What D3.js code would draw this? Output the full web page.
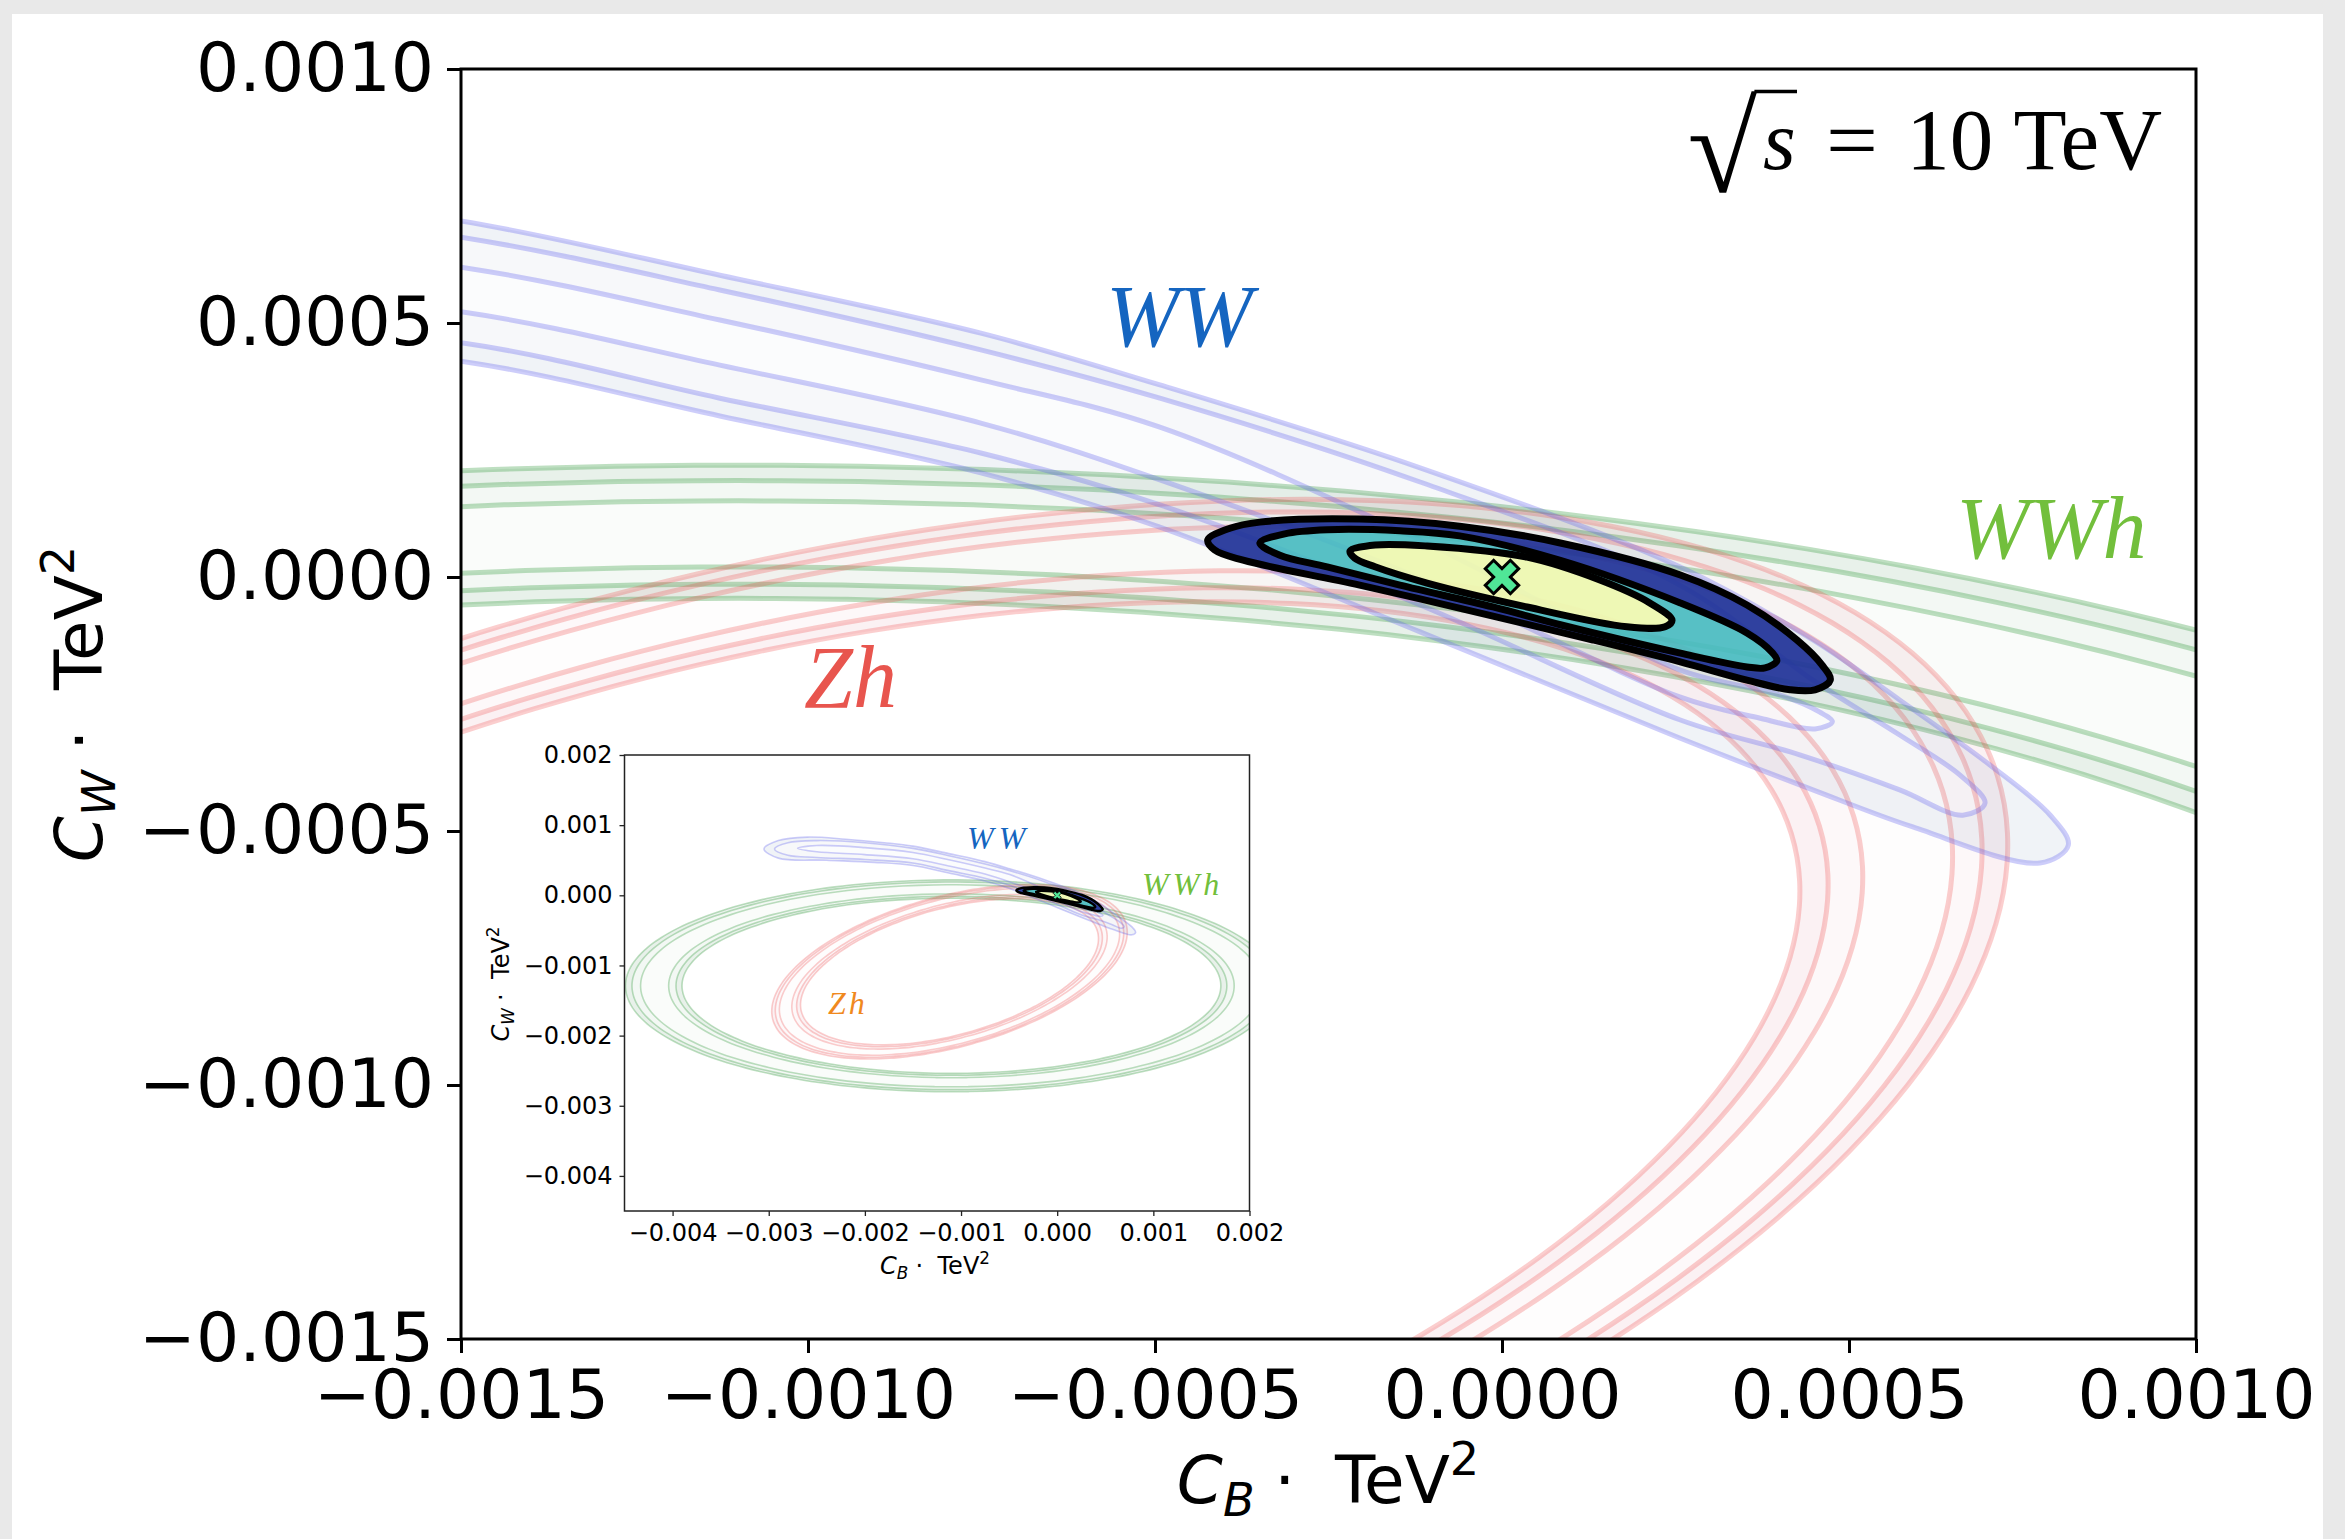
<!DOCTYPE html>
<html>
<head>
<meta charset="utf-8">
<script src="https://cdn.jsdelivr.net/npm/d3@7"></script>
<style>
  body { margin: 0; background: #e9e9e9; }
  svg { display: block; }
</style>
</head>
<body>
<div id="chart"></div>
<script>
// axis ranges and ticks (C_B on x, C_W on y, both times TeV^2)
var xDomain = [-0.0015, 0.001];
var yDomain = [-0.0015, 0.001];
var xTicks = [-0.0015, -0.001, -0.0005, 0, 0.0005, 0.001];
var yTicks = [-0.0015, -0.001, -0.0005, 0, 0.0005, 0.001];
var insetDomain = [-0.0045, 0.002];
var insetTicks = [-0.004, -0.003, -0.002, -0.001, 0, 0.001, 0.002];

// WW: three nested closed contours (inner -> outer), [C_B, C_W]
var ww1 = [
  [-0.0027, 0.00067], [-0.0025, 0.00071], [-0.002, 0.00068], [-0.0015, 0.00061],
  [-0.001127, 0.000506], [-0.000751, 0.000388], [-0.000493, 0.000295], [-0.000118, 0.000073],
  [0.000256, -0.000183], [0.0004, -0.000232], [0.000458, -0.000266], [0.000476, -0.000285],
  [0.000451, -0.000299], [0.000372, -0.000278], [0.000256, -0.000236], [-0.000118, -0.000002],
  [-0.000493, 0.000191], [-0.000751, 0.000303], [-0.001127, 0.000417], [-0.0015, 0.000522],
  [-0.002, 0.00058], [-0.0025, 0.00062]
];
var ww2 = [
  [-0.00294, 0.00066], [-0.0028, 0.00075], [-0.0025, 0.00078], [-0.002, 0.00075], [-0.0015, 0.000669],
  [-0.001127, 0.000565], [-0.000751, 0.000447], [-0.000493, 0.000352], [-0.000118, 0.000187],
  [0.000256, -0.000016], [0.000448, -0.000203], [0.000573, -0.000311], [0.00066, -0.00039],
  [0.000696, -0.000445], [0.000664, -0.000469], [0.000573, -0.000419], [0.000429, -0.00035],
  [0.000256, -0.000281], [-0.000118, -0.000055], [-0.000493, 0.000142], [-0.000751, 0.000244],
  [-0.001127, 0.000352], [-0.0015, 0.000461], [-0.002, 0.00051], [-0.0025, 0.00054], [-0.0028, 0.00057]
];
var ww3 = [
  [-0.00305, 0.00066], [-0.0029, 0.00078], [-0.0026, 0.00083], [-0.0022, 0.0008], [-0.0018, 0.00075],
  [-0.0015, 0.000701], [-0.001127, 0.000594], [-0.000751, 0.00048], [-0.000493, 0.000378],
  [-0.000118, 0.000215], [0.000256, 0.00002], [0.000448, -0.000124], [0.000573, -0.000242],
  [0.000703, -0.00037], [0.00079, -0.000469], [0.000816, -0.000528], [0.000775, -0.000563],
  [0.000592, -0.000492], [0.000448, -0.000419], [0.000256, -0.000317], [-0.000118, -0.000108],
  [-0.000493, 0.000098], [-0.000751, 0.000205], [-0.001127, 0.000317], [-0.0015, 0.000425],
  [-0.0019, 0.00047], [-0.0024, 0.0005], [-0.0029, 0.00053]
];

// WWh and Zh are rings of similar ellipses: [centre C_B, centre C_W, semi-axis a, semi-axis b, tilt deg]
var wwhEllipse = [-0.0011, -0.00129, 0.00339, 0.00151, 0];
var wwhScales = [0.8265, 0.845, 0.8675, 0.9536, 0.98, 1.0];   // inner 3s .. outer 3s
var zhEllipse = [-0.00112, -0.00109, 0.00197, 0.00104, 24];
var zhScales = [0.838, 0.86, 0.887, 0.957, 0.98, 1.0];

// combined fit, 1/2/3 sigma
var fit1 = [
  [-0.000219, 0.000051], [-0.000183, 0.000063], [-0.000108, 0.000061], [0.000036, 0.000039],
  [0.000141, -0.000006], [0.000213, -0.000051], [0.000245, -0.000085], [0.000235, -0.000098],
  [0.00018, -0.000098], [0.000036, -0.000059], [-0.000108, -0.000012], [-0.000183, 0.00002],
  [-0.000212, 0.000037]
];
var fit2 = [
  [-0.000349, 0.000067], [-0.000313, 0.000085], [-0.000252, 0.000093], [-0.000147, 0.000091],
  [-0.000061, 0.000081], [0.000084, 0.000033], [0.000257, -0.000051], [0.000353, -0.00011],
  [0.000389, -0.000148], [0.000396, -0.000165], [0.000379, -0.000179], [0.000353, -0.000177],
  [0.000257, -0.00015], [0.000084, -0.000094], [-0.000013, -0.000059], [-0.000147, -0.000016],
  [-0.000252, 0.00002], [-0.00032, 0.000043]
];
var fit3 = [
  [-0.000424, 0.000073], [-0.000392, 0.000096], [-0.000349, 0.000108], [-0.000205, 0.000114],
  [-0.000061, 0.0001], [0.000084, 0.000067], [0.000257, 0.000004], [0.000353, -0.000055],
  [0.000425, -0.000124], [0.000461, -0.000173], [0.000473, -0.000203], [0.000451, -0.000222],
  [0.000415, -0.000222], [0.000353, -0.000203], [0.000257, -0.000167], [0.000131, -0.000124],
  [-0.000013, -0.000077], [-0.000205, -0.000016], [-0.000373, 0.000033], [-0.000414, 0.000053]
];
var bestFit = [0, 0];

var W = 2345, H = 1539;

var svg = d3.select("#chart").append("svg")
  .attr("width", W)
  .attr("height", H);

svg.append("rect").attr("width", W).attr("height", H).attr("fill", "#e9e9e9");
svg.append("rect").attr("x", 12).attr("y", 14).attr("width", 2311).attr("height", H - 14).attr("fill", "white");

var defs = svg.append("defs");

function ellipseRing(e, s) {
  var th = e[4] * Math.PI / 180;
  return d3.range(0, 360, 3).map(function(deg) {
    var t = deg * Math.PI / 180;
    var u = s * e[2] * Math.cos(t), v = s * e[3] * Math.sin(t);
    return [e[0] + u * Math.cos(th) - v * Math.sin(th), e[1] + u * Math.sin(th) + v * Math.cos(th)];
  });
}

var wwhRings = wwhScales.map(function(s) { return ellipseRing(wwhEllipse, s); });
var zhRings = zhScales.map(function(s) { return ellipseRing(zhEllipse, s); });

// draws all contours of one panel
function drawPanel(g, x, y, clipId, lw, fitLw, markSize, markStroke) {
  var line = d3.line()
    .x(function(d) { return x(d[0]); })
    .y(function(d) { return y(d[1]); })
    .curve(d3.curveCatmullRomClosed);

  var body = g.append("g").attr("clip-path", "url(#" + clipId + ")");

  function band(outer, inner, fill) {
    body.append("path")
      .attr("d", line(outer) + (inner ? line(inner) : ""))
      .attr("fill-rule", "evenodd")
      .attr("fill", fill);
  }
  function strokes(curves, color) {
    curves.forEach(function(c) {
      body.append("path")
        .attr("d", line(c))
        .attr("fill", "none")
        .attr("stroke", color)
        .attr("stroke-width", lw);
    });
  }
  function ring(r, fills, color) {
    band(r[5], r[4], fills[0]);
    band(r[4], r[3], fills[1]);
    band(r[3], r[2], fills[2]);
    band(r[2], r[1], fills[1]);
    band(r[1], r[0], fills[0]);
    strokes(r, color);
  }

  ring(wwhRings, ["rgba(30,120,50,0.10)", "rgba(30,120,50,0.055)", "rgba(30,120,50,0.022)"], "rgba(40,150,50,0.3)");
  ring(zhRings, ["rgba(200,50,80,0.07)", "rgba(200,50,80,0.035)", "rgba(200,50,80,0.012)"], "rgba(240,60,60,0.25)");

  band(ww3, ww2, "rgba(60,100,150,0.08)");
  band(ww2, ww1, "rgba(60,100,150,0.045)");
  band(ww1, null, "rgba(60,100,150,0.02)");
  strokes([ww1, ww2, ww3], "rgba(90,90,240,0.3)");

  // combined fit
  band(fit3, fit2, "rgba(32,50,152,0.92)");
  band(fit2, fit1, "rgba(70,186,192,0.9)");
  band(fit1, null, "rgba(237,248,177,0.95)");
  [fit1, fit2, fit3].forEach(function(c) {
    body.append("path")
      .attr("d", line(c))
      .attr("fill", "none")
      .attr("stroke", "black")
      .attr("stroke-width", fitLw);
  });

  body.append("path")
    .attr("d", d3.symbol().type(d3.symbolCross).size(markSize)())
    .attr("transform", "translate(" + x(bestFit[0]) + "," + y(bestFit[1]) + ") rotate(45)")
    .attr("fill", "#50e697")
    .attr("stroke", "black")
    .attr("stroke-width", markStroke);
}

// "C_sub . TeV^2" axis title
function cLabel(t, sub, fs) {
  t.append("tspan").attr("font-style", "italic").text("C");
  t.append("tspan").attr("font-style", "italic").attr("font-size", fs * 0.7).attr("dy", fs * 0.2).text(sub);
  t.append("tspan").attr("dy", -fs * 0.2).attr("dx", fs * 0.3).text("\u00b7");
  t.append("tspan").attr("dx", fs * 0.6).text("TeV");
  t.append("tspan").attr("font-size", fs * 0.7).attr("dy", -fs * 0.42).text("2");
}

// ---------- main panel ----------
var x = d3.scaleLinear().domain(xDomain).range([461, 2196]);
var y = d3.scaleLinear().domain(yDomain).range([1339, 69]);

defs.append("clipPath").attr("id", "clipMain")
  .append("rect").attr("x", 461).attr("y", 69).attr("width", 1735).attr("height", 1270);

var mainG = svg.append("g");
drawPanel(mainG, x, y, "clipMain", 5, 7, 700, 3);

var fmt4 = d3.format(".4f");

var xAxis = mainG.append("g")
  .attr("transform", "translate(0,1339)")
  .call(d3.axisBottom(x).tickValues(xTicks).tickFormat(fmt4).tickSize(14).tickPadding(17));
var yAxis = mainG.append("g")
  .attr("transform", "translate(461,0)")
  .call(d3.axisLeft(y).tickValues(yTicks).tickFormat(fmt4).tickSize(14).tickPadding(13));

[xAxis, yAxis].forEach(function(a) {
  a.select(".domain").remove();
  a.selectAll("line").attr("stroke", "black").attr("stroke-width", 3);
  a.selectAll("text").attr("font-family", "DejaVu Sans").attr("font-size", 68).attr("fill", "black");
});

mainG.append("rect")
  .attr("x", 461).attr("y", 69).attr("width", 1735).attr("height", 1270)
  .attr("fill", "none").attr("stroke", "black").attr("stroke-width", 3);

var xl = mainG.append("text")
  .attr("x", 1328).attr("y", 1503)
  .attr("text-anchor", "middle")
  .attr("font-family", "DejaVu Sans").attr("font-size", 66);
cLabel(xl, "B", 66);

var yl = mainG.append("text")
  .attr("transform", "translate(102,704) rotate(-90)")
  .attr("text-anchor", "middle")
  .attr("font-family", "DejaVu Sans").attr("font-size", 66);
cLabel(yl, "W", 66);

// process names
var serif = "Liberation Serif";
mainG.append("text").attr("x", 1106).attr("y", 346).attr("font-family", serif).attr("font-style", "italic")
  .attr("font-size", 88).attr("fill", "#1565c0").text("WW");
mainG.append("text").attr("x", 804).attr("y", 707).attr("font-family", serif).attr("font-style", "italic")
  .attr("font-size", 88).attr("fill", "#e8554e").text("Zh");
mainG.append("text").attr("x", 1956).attr("y", 558).attr("font-family", serif).attr("font-style", "italic")
  .attr("font-size", 88).attr("fill", "#72bf3c").text("WWh");

// sqrt(s) = 10 TeV
var ctx = document.createElement("canvas").getContext("2d");
ctx.font = "100px 'Liberation Serif'";
var m = ctx.measureText("\u221a");
var inkH = m.actualBoundingBoxAscent + m.actualBoundingBoxDescent;
var radFs = 100 * 103 / inkH;
var k = radFs / 100;
var radX = 1690 + m.actualBoundingBoxLeft * k;
var radY = 90 + m.actualBoundingBoxAscent * k;
mainG.append("text").attr("x", radX).attr("y", radY)
  .attr("font-family", serif).attr("font-size", radFs).text("\u221a");
var radRight = radX + m.actualBoundingBoxRight * k;
mainG.append("line")
  .attr("x1", radRight - 3).attr("x2", 1797)
  .attr("y1", 91.5).attr("y2", 91.5)
  .attr("stroke", "black").attr("stroke-width", 3.5);
mainG.append("text").attr("x", 1763).attr("y", 169)
  .attr("font-family", serif).attr("font-style", "italic").attr("font-size", 84).text("s");
mainG.append("text").attr("x", 1826).attr("y", 169)
  .attr("font-family", serif).attr("font-size", 84)
  .attr("textLength", 52).attr("lengthAdjust", "spacingAndGlyphs").text("=");
mainG.append("text").attr("x", 2162).attr("y", 169).attr("text-anchor", "end")
  .attr("font-family", serif).attr("font-size", 87).text("10 TeV");

// ---------- inset ----------
var xi = d3.scaleLinear().domain(insetDomain).range([624.5, 1249.5]);
var yi = d3.scaleLinear().domain(insetDomain).range([1211, 755]);

defs.append("clipPath").attr("id", "clipInset")
  .append("rect").attr("x", 624.5).attr("y", 755).attr("width", 625).attr("height", 456);

var inG = svg.append("g");
inG.append("rect").attr("x", 624.5).attr("y", 755).attr("width", 625).attr("height", 456).attr("fill", "white");
drawPanel(inG, xi, yi, "clipInset", 1.6, 2.5, 40, 0.8);

var fmt3 = d3.format(".3f");
var xiAxis = inG.append("g")
  .attr("transform", "translate(0,1211)")
  .call(d3.axisBottom(xi).tickValues(insetTicks).tickFormat(fmt3).tickSize(5).tickPadding(8));
var yiAxis = inG.append("g")
  .attr("transform", "translate(624.5,0)")
  .call(d3.axisLeft(yi).tickValues(insetTicks).tickFormat(fmt3).tickSize(5).tickPadding(7));
[xiAxis, yiAxis].forEach(function(a) {
  a.select(".domain").remove();
  a.selectAll("line").attr("stroke", "#222").attr("stroke-width", 1.3);
  a.selectAll("text").attr("font-family", "DejaVu Sans").attr("font-size", 24).attr("fill", "black");
});
inG.append("rect")
  .attr("x", 624.5).attr("y", 755).attr("width", 625).attr("height", 456)
  .attr("fill", "none").attr("stroke", "#222").attr("stroke-width", 1.5);

var xil = inG.append("text").attr("x", 935).attr("y", 1274).attr("text-anchor", "middle")
  .attr("font-family", "DejaVu Sans").attr("font-size", 24);
cLabel(xil, "B", 24);
var yil = inG.append("text").attr("transform", "translate(509,984) rotate(-90)").attr("text-anchor", "middle")
  .attr("font-family", "DejaVu Sans").attr("font-size", 24);
cLabel(yil, "W", 24);

inG.append("text").attr("x", 967).attr("y", 849).attr("font-family", serif).attr("font-style", "italic")
  .attr("font-size", 32).attr("letter-spacing", 5).attr("fill", "#1565c0").text("WW");
inG.append("text").attr("x", 1142).attr("y", 895).attr("font-family", serif).attr("font-style", "italic")
  .attr("font-size", 32).attr("letter-spacing", 4).attr("fill", "#72bf3c").text("WWh");
inG.append("text").attr("x", 828).attr("y", 1014).attr("font-family", serif).attr("font-style", "italic")
  .attr("font-size", 32).attr("letter-spacing", 3).attr("fill", "#f0891e").text("Zh");
</script>
</body>
</html>
